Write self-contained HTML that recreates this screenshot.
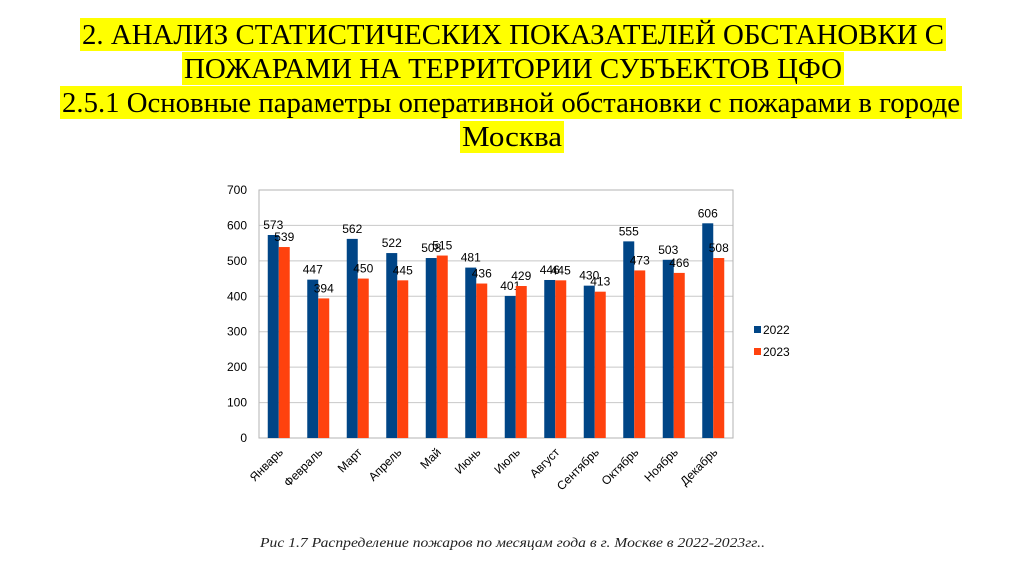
<!DOCTYPE html>
<html><head><meta charset="utf-8"><style>
body{margin:0;background:#fff;}
svg{display:block;}
</style></head><body>
<svg width="1024" height="574" xmlns="http://www.w3.org/2000/svg">
<g font-family="'Liberation Serif', serif" font-size="28" fill="#000">
<rect x="80" y="18" width="866" height="33" fill="#ffff00"/>
<rect x="182" y="52" width="662" height="33" fill="#ffff00"/>
<rect x="60" y="86" width="902" height="33" fill="#ffff00"/>
<rect x="460" y="121" width="104" height="32" fill="#ffff00"/>
<text x="82" y="44" textLength="862" lengthAdjust="spacingAndGlyphs">2. АНАЛИЗ СТАТИСТИЧЕСКИХ ПОКАЗАТЕЛЕЙ ОБСТАНОВКИ С</text>
<text x="184" y="78" textLength="658" lengthAdjust="spacingAndGlyphs">ПОЖАРАМИ НА ТЕРРИТОРИИ СУБЪЕКТОВ ЦФО</text>
<text x="62" y="112" textLength="898" lengthAdjust="spacingAndGlyphs">2.5.1 Основные параметры оперативной обстановки с пожарами в городе</text>
<text x="462" y="146" textLength="100" lengthAdjust="spacingAndGlyphs">Москва</text>
</g>
<g id="chart" font-family="'Liberation Sans', sans-serif"></g>
<text x="260" y="547" textLength="505" lengthAdjust="spacingAndGlyphs" font-family="'Liberation Serif', serif" font-style="italic" font-size="14" fill="#222">Рис 1.7 Распределение пожаров по месяцам года в г. Москве в 2022-2023гг..</text>
</svg>
<script>
const months = ["Январь","Февраль","Март","Апрель","Май","Июнь","Июль","Август","Сентябрь","Октябрь","Ноябрь","Декабрь"];
const values2022 = [573,447,562,522,508,481,401,446,430,555,503,606];
const values2023 = [539,394,450,445,515,436,429,445,413,473,466,508];
const yTicks = [0,100,200,300,400,500,600,700];
const seriesNames = ["2022","2023"];
const colors = ["#004586","#ff420e"];

const NS="http://www.w3.org/2000/svg";
const g=document.getElementById('chart');
const L=259,R=733,T=190,B=438,yMax=700;
const y=v=>B-(B-T)*v/yMax;
const gw=(R-L)/months.length;
const xc=i=>L+gw*(i+0.5);
const bw=11;
function mk(tag,attrs,parent){const e=document.createElementNS(NS,tag);for(const k in attrs)e.setAttribute(k,attrs[k]);(parent||g).appendChild(e);return e;}

yTicks.forEach(t=>{
  const ln=mk('line',{x1:L,x2:R,y1:y(t),y2:y(t),stroke:'#c8c8c8','stroke-width':1});
  
  
  const tx=mk('text',{x:L-12,y:y(t)+4,'text-anchor':'end','font-size':12,fill:'#000'});
  tx.textContent=t;
  
  
});
const frame=mk('rect',{x:L,y:T,width:R-L,height:B-T,fill:'none',stroke:'#b3b3b3','stroke-width':1});



[values2022,values2023].forEach((vals,s)=>{
  vals.forEach((v,i)=>{
    const x=xc(i)-bw+s*bw;
    const r=mk('rect',{x:x,y:y(v),width:bw,height:B-y(v),fill:colors[s]});
    
    
    const t=mk('text',{x:x+bw/2,y:y(v)-6,'text-anchor':'middle','font-size':12,fill:'#000'});
    t.textContent=v;
    
    
  });
});

months.forEach((m,i)=>{
  const x=xc(i)+5,yy=453;
  const t=mk('text',{x:x,y:yy,'text-anchor':'end','font-size':12,fill:'#000',transform:`rotate(-45 ${x} ${yy})`});
  t.textContent=m;
  
  
});

seriesNames.forEach((n,s)=>{
  const ly=330+s*22;
  const r=mk('rect',{x:754,y:ly-4,width:7,height:7,fill:colors[s]});
  
  
  const t=mk('text',{x:763,y:ly+4,'font-size':12,fill:'#000'});
  t.textContent=n;
  
  
});
</script>
</body></html>
